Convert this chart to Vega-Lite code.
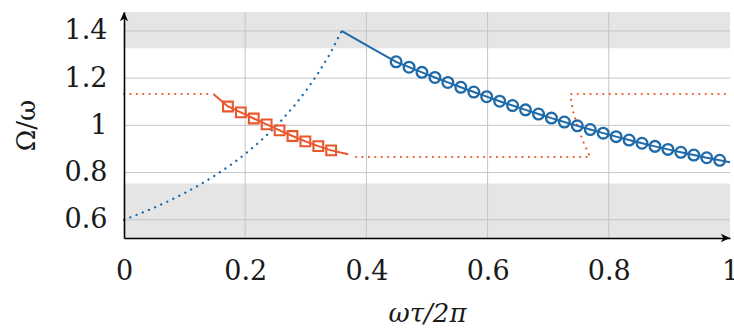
{
  "$schema": "https://vega.github.io/schema/vega-lite/v6.json",
  "width": 606,
  "height": 226,
  "autosize": "none",
  "padding": {"left": 124, "top": 12, "right": 4, "bottom": 90},
  "background": "white",
  "config": {
    "view": {"stroke": null}
  },
  "datasets": {
    "one": [{"k": 1}],
    "bands": [{"lo": 1.326, "hi": 1.48}, {"lo": 0.523, "hi": 0.754}],
    "gridx": [{"g": 0.2}, {"g": 0.4}, {"g": 0.6}, {"g": 0.8}],
    "gridy": [{"g": 0.6}, {"g": 0.8}, {"g": 1.0}, {"g": 1.2}, {"g": 1.4}],
    "blueDotted": [
      {"x": 0.00, "y": 0.6000}, {"x": 0.02, "y": 0.6197}, {"x": 0.04, "y": 0.6407},
      {"x": 0.06, "y": 0.6631}, {"x": 0.08, "y": 0.6873}, {"x": 0.10, "y": 0.7132},
      {"x": 0.12, "y": 0.7411}, {"x": 0.14, "y": 0.7714}, {"x": 0.16, "y": 0.8042},
      {"x": 0.18, "y": 0.8399}, {"x": 0.20, "y": 0.8790}, {"x": 0.22, "y": 0.9219},
      {"x": 0.24, "y": 0.9691}, {"x": 0.26, "y": 1.0215}, {"x": 0.28, "y": 1.0798},
      {"x": 0.30, "y": 1.1453}, {"x": 0.32, "y": 1.2191}, {"x": 0.34, "y": 1.3032},
      {"x": 0.359, "y": 1.3990}
    ],
    "blueLine": [
      {"x": 0.359, "y": 1.400, "m": 0}, {"x": 0.405, "y": 1.332, "m": 0},
      {"x": 0.4490, "y": 1.2690, "m": 1}, {"x": 0.4704, "y": 1.2464, "m": 1},
      {"x": 0.4917, "y": 1.2244, "m": 1}, {"x": 0.5131, "y": 1.2028, "m": 1},
      {"x": 0.5344, "y": 1.1818, "m": 1}, {"x": 0.5558, "y": 1.1612, "m": 1},
      {"x": 0.5772, "y": 1.1411, "m": 1}, {"x": 0.5985, "y": 1.1215, "m": 1},
      {"x": 0.6199, "y": 1.1023, "m": 1}, {"x": 0.6412, "y": 1.0838, "m": 1},
      {"x": 0.6626, "y": 1.0656, "m": 1}, {"x": 0.6840, "y": 1.0479, "m": 1},
      {"x": 0.7053, "y": 1.0307, "m": 1}, {"x": 0.7267, "y": 1.0140, "m": 1},
      {"x": 0.7480, "y": 0.9979, "m": 1}, {"x": 0.7694, "y": 0.9822, "m": 1},
      {"x": 0.7908, "y": 0.9670, "m": 1}, {"x": 0.8121, "y": 0.9522, "m": 1},
      {"x": 0.8335, "y": 0.9379, "m": 1}, {"x": 0.8548, "y": 0.9243, "m": 1},
      {"x": 0.8762, "y": 0.9110, "m": 1}, {"x": 0.8976, "y": 0.8982, "m": 1},
      {"x": 0.9189, "y": 0.8859, "m": 1}, {"x": 0.9403, "y": 0.8741, "m": 1},
      {"x": 0.9616, "y": 0.8628, "m": 1}, {"x": 0.9830, "y": 0.8520, "m": 1},
      {"x": 1.0, "y": 0.8437, "m": 0}
    ],
    "orangeLine": [
      {"x": 0.1474, "y": 1.1325, "m": 0},
      {"x": 0.1715, "y": 1.080, "m": 1}, {"x": 0.1928, "y": 1.055, "m": 1},
      {"x": 0.2141, "y": 1.029, "m": 1}, {"x": 0.2354, "y": 1.004, "m": 1},
      {"x": 0.2567, "y": 0.979, "m": 1}, {"x": 0.2780, "y": 0.955, "m": 1},
      {"x": 0.2993, "y": 0.932, "m": 1}, {"x": 0.3206, "y": 0.912, "m": 1},
      {"x": 0.3419, "y": 0.894, "m": 1},
      {"x": 0.3701, "y": 0.8774, "m": 0}
    ],
    "orangeDotted": [
      {"s": "a", "i": 0, "x": 0.0, "y": 1.1325},
      {"s": "a", "i": 1, "x": 0.1474, "y": 1.1325},
      {"s": "b", "i": 0, "x": 0.383, "y": 0.866},
      {"s": "b", "i": 1, "x": 0.769, "y": 0.866},
      {"s": "b", "i": 2, "x": 0.758, "y": 0.93},
      {"s": "b", "i": 3, "x": 0.749, "y": 0.99},
      {"s": "b", "i": 4, "x": 0.742, "y": 1.05},
      {"s": "b", "i": 5, "x": 0.738, "y": 1.10},
      {"s": "b", "i": 6, "x": 0.737, "y": 1.1325},
      {"s": "b", "i": 7, "x": 1.0, "y": 1.1325}
    ]
  },
  "layer": [
    {
      "data": {"name": "bands"},
      "mark": {"type": "rect", "color": "#e5e5e5"},
      "encoding": {
        "x": {"datum": 0, "type": "quantitative", "scale": {"domain": [0, 1], "nice": false, "zero": false}},
        "x2": {"datum": 1},
        "y": {"field": "lo", "type": "quantitative", "scale": {"domain": [0.523, 1.48], "nice": false, "zero": false}},
        "y2": {"field": "hi"}
      }
    },
    {
      "data": {"name": "gridx"},
      "mark": {"type": "rule", "color": "#c4c4c4", "strokeWidth": 1},
      "encoding": {
        "x": {"field": "g", "type": "quantitative"}
      }
    },
    {
      "data": {"name": "gridy"},
      "mark": {"type": "rule", "color": "#c4c4c4", "strokeWidth": 1},
      "encoding": {
        "y": {"field": "g", "type": "quantitative"}
      }
    },
    {
      "data": {"name": "blueDotted"},
      "mark": {"type": "line", "color": "#1f6aa8", "strokeWidth": 2.3, "strokeDash": [0.1, 6.6], "strokeCap": "round"},
      "encoding": {
        "x": {"field": "x", "type": "quantitative", "scale": {"domain": [0, 1], "nice": false, "zero": false},
              "axis": {"values": [0, 0.2, 0.4, 0.6, 0.8, 1], "format": ".1~f",
                       "zindex": 1, "grid": false, "ticks": false, "tickSize": 0,
                       "domainColor": "#000000", "domainWidth": 1.6, "domainOpacity": 1,
                       "labelFont": "DejaVu Serif", "labelFontSize": 27, "labelColor": "#1a1a1a",
                       "labelFlush": false, "labelOverlap": false,
                       "labelPadding": 41, "labelBaseline": "alphabetic",
                       "title": "ωτ/2π", "titleFont": "DejaVu Serif", "titleFontSize": 26, "titleColor": "#1a1a1a",
                       "titleFontWeight": "normal", "titleFontStyle": "italic", "titleBaseline": "alphabetic", "titlePadding": 37}},
        "y": {"field": "y", "type": "quantitative", "scale": {"domain": [0.523, 1.48], "nice": false, "zero": false},
              "axis": {"values": [0.6, 0.8, 1, 1.2, 1.4], "format": ".1~f",
                       "zindex": 1, "grid": false, "ticks": false, "tickSize": 0,
                       "domainColor": "#000000", "domainWidth": 1.6, "domainOpacity": 1,
                       "labelFont": "DejaVu Serif", "labelFontSize": 27, "labelColor": "#1a1a1a",
                       "labelFlush": false, "labelOverlap": false,
                       "labelPadding": 17,
                       "title": "Ω/ω", "titleFont": "DejaVu Serif", "titleFontSize": 26, "titleColor": "#1a1a1a",
                       "titleFontWeight": "normal", "titleBaseline": "alphabetic", "titlePadding": 30}}
      }
    },
    {
      "data": {"name": "orangeDotted"},
      "mark": {"type": "line", "color": "#e8582c", "strokeWidth": 2.1, "strokeDash": [0.1, 6.3], "strokeCap": "round"},
      "encoding": {
        "x": {"field": "x", "type": "quantitative"},
        "y": {"field": "y", "type": "quantitative"},
        "detail": {"field": "s"},
        "order": {"field": "i"}
      }
    },
    {
      "data": {"name": "orangeLine"},
      "mark": {"type": "line", "color": "#e8582c", "strokeWidth": 2},
      "encoding": {
        "x": {"field": "x", "type": "quantitative"},
        "y": {"field": "y", "type": "quantitative"}
      }
    },
    {
      "data": {"name": "orangeLine"},
      "transform": [{"filter": "datum.m == 1"}],
      "mark": {"type": "point", "shape": "square", "filled": false, "color": "#e8582c", "strokeWidth": 2.1, "size": 95, "opacity": 1},
      "encoding": {
        "x": {"field": "x", "type": "quantitative"},
        "y": {"field": "y", "type": "quantitative"}
      }
    },
    {
      "data": {"name": "blueLine"},
      "mark": {"type": "line", "color": "#1f6aa8", "strokeWidth": 2},
      "encoding": {
        "x": {"field": "x", "type": "quantitative"},
        "y": {"field": "y", "type": "quantitative"}
      }
    },
    {
      "data": {"name": "blueLine"},
      "transform": [{"filter": "datum.m == 1"}],
      "mark": {"type": "point", "shape": "circle", "filled": false, "color": "#1f6aa8", "strokeWidth": 2.3, "size": 115, "opacity": 1},
      "encoding": {
        "x": {"field": "x", "type": "quantitative"},
        "y": {"field": "y", "type": "quantitative"}
      }
    },
    {
      "data": {"name": "one"},
      "mark": {"type": "point", "shape": "M0,0L-2,-0.9L-1.45,0L-2,0.9Z", "filled": true, "color": "#000000", "size": 85, "opacity": 1},
      "encoding": {
        "x": {"datum": 1, "type": "quantitative"},
        "y": {"datum": 0.523, "type": "quantitative"}
      }
    },
    {
      "data": {"name": "one"},
      "mark": {"type": "point", "shape": "M0,0L-0.9,2L0,1.45L0.9,2Z", "filled": true, "color": "#000000", "size": 85, "opacity": 1},
      "encoding": {
        "x": {"datum": 0, "type": "quantitative"},
        "y": {"datum": 1.48, "type": "quantitative"}
      }
    }
  ]
}
